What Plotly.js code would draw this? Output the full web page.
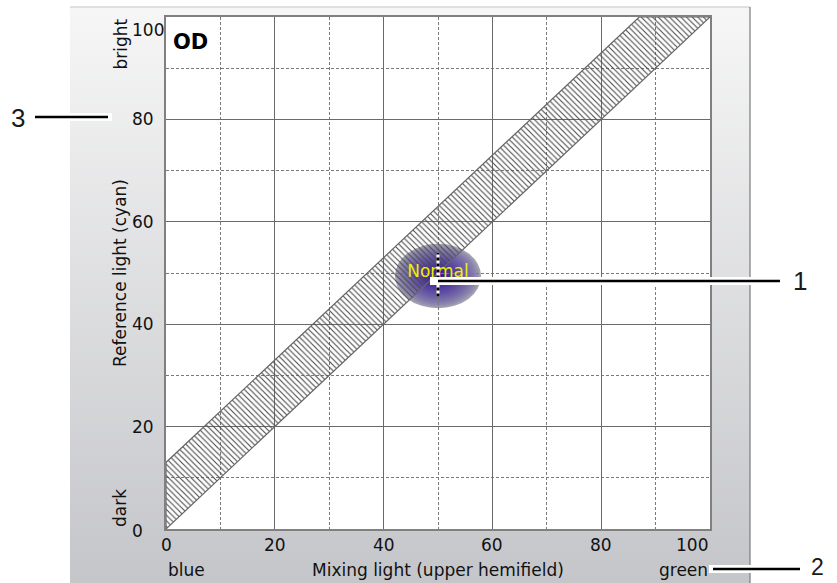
<!DOCTYPE html>
<html>
<head>
<meta charset="utf-8">
<script src="https://cdn.plot.ly/plotly-3.0.1.min.js"></script>
<style>
  html, body { margin: 0; padding: 0; background: #ffffff; }
  #chart { width: 837px; height: 583px; }
</style>
</head>
<body>
<div id="chart"></div>
<script>
// ---------------- data ----------------
const xTickVals = [0, 20, 40, 60, 80, 100];
const xTickLabels = ['0', '20', '40', '60', '80', '100'];
const yTickVals = [0, 20, 40, 60, 80, 100];
const yTickLabels = ['0', '20', '40', '60', '80', '100'];

// hatched tolerance band (mixing light vs reference light)
const bandX = [0, 0, 87, 100, 0];
const bandY = [0, 13, 100, 100, 0];

// "Normal" result
const normalX = [50];
const normalY = [50];
const normalRangeY = [45.4, 53.9];
const normalLabel = ['Normal'];
const normalSpread = { cx: 50, cy: 49.4, rx: 7.9, ry: 6.3 };

const xTitle = 'Mixing light (upper hemifield)';
const yTitle = 'Reference light (cyan)';
const xEndLabels = ['blue', 'green'];
const yEndLabels = ['dark', 'bright'];
const panelTitle = 'OD';
const calloutLabels = ['1', '2', '3'];

(function () {
// ---------------- layout helpers ----------------
const W = 837, H = 583;
const M = { l: 166, r: 127, t: 17, b: 54 };
const PW = W - M.l - M.r, PH = H - M.t - M.b;
const px = v => (v - M.l) / PW;          // pixel x -> paper
const py = v => (H - M.b - v) / PH;      // pixel y -> paper

const FONT = "'DejaVu Sans', Verdana, sans-serif";
const shapes = [];
const annotations = [];

// panel gradient background
const cTop = [246, 246, 246], cBot = [197, 198, 202];
const nBands = 72, y0p = 7, y1p = 583;
for (let i = 0; i < nBands; i++) {
  const t = i / (nBands - 1);
  const c = cTop.map((v, k) => Math.round(v + (cBot[k] - v) * t));
  const ya = y0p + (y1p - y0p) * i / nBands;
  const yb = y0p + (y1p - y0p) * (i + 1) / nBands + 0.6;
  shapes.push({ type: 'rect', xref: 'paper', yref: 'paper', layer: 'below',
    x0: px(70), x1: px(750), y0: py(ya), y1: py(yb),
    fillcolor: `rgb(${c[0]},${c[1]},${c[2]})`, line: { width: 0 } });
}
shapes.push({ type: 'line', xref: 'paper', yref: 'paper', layer: 'below',
  x0: px(70), x1: px(750), y0: py(7), y1: py(7), line: { color: '#d6d6d6', width: 1.5 } });
shapes.push({ type: 'line', xref: 'paper', yref: 'paper', layer: 'below',
  x0: px(750), x1: px(750), y0: py(7), y1: py(583), line: { color: '#7a7a7a', width: 1.2 } });
// white plotting area
shapes.push({ type: 'rect', xref: 'paper', yref: 'paper', layer: 'below',
  x0: 0, x1: 1, y0: 0, y1: 1, fillcolor: '#ffffff', line: { width: 0 } });

// soft "normal" spread (stepped radial shading)
const outerC = [160, 160, 178], innerC = [48, 18, 150];
const nRings = 18;
for (let i = 0; i < nRings; i++) {
  const s = 1 - i / nRings;
  const t = Math.pow(i / (nRings - 1), 0.75);
  const c = outerC.map((v, k) => Math.round(v + (innerC[k] - v) * t));
  shapes.push({ type: 'circle', xref: 'x', yref: 'y', layer: 'below',
    x0: normalSpread.cx - normalSpread.rx * s, x1: normalSpread.cx + normalSpread.rx * s,
    y0: normalSpread.cy - normalSpread.ry * s, y1: normalSpread.cy + normalSpread.ry * s,
    fillcolor: `rgb(${c[0]},${c[1]},${c[2]})`, line: { width: 0 } });
}

// callout lines (black with white halo)
function callout(xa, xb, y, padL, padR) {
  shapes.push({ type: 'line', xref: 'paper', yref: 'paper', layer: 'above',
    x0: px(xa - padL), x1: px(xb + padR), y0: py(y), y1: py(y), line: { color: '#ffffff', width: 8 } });
  shapes.push({ type: 'line', xref: 'paper', yref: 'paper', layer: 'above',
    x0: px(xa), x1: px(xb), y0: py(y), y1: py(y), line: { color: '#000000', width: 2.6 } });
}
callout(438, 780, 281, 8, 0);
callout(713, 800, 569, 4, 0);
callout(35, 108, 117, 0, 4);
const calloutPos = [[800, 281], [817, 567], [18, 118]];
const calloutSize = [26, 23, 26];
calloutLabels.forEach((lab, i) => {
  annotations.push({ xref: 'paper', yref: 'paper', x: px(calloutPos[i][0]), y: py(calloutPos[i][1]),
    text: lab, showarrow: false, xanchor: 'center', yanchor: 'middle', borderpad: 0,
    font: { family: "'Liberation Sans', Arial, sans-serif", size: calloutSize[i], color: '#1a1a1a' } });
});

// tick labels
const tickFont = { family: FONT, size: 17, color: '#111111' };
xTickVals.forEach((v, i) => {
  const last = i === xTickVals.length - 1;
  annotations.push({ xref: 'x', yref: 'paper', x: v, y: 0, yanchor: 'middle', yshift: -16,
    xanchor: last ? 'right' : 'center',
    text: xTickLabels[i], showarrow: false, font: tickFont });
});
yTickVals.forEach((v, i) => {
  const last = i === yTickVals.length - 1;
  annotations.push({ xref: 'paper', yref: 'y', x: px(130), y: v, xanchor: 'left', yanchor: 'middle',
    yshift: last ? -13 : (i === 0 ? -2 : 0),
    text: yTickLabels[i], showarrow: false, font: tickFont });
});

// axis titles and end labels
annotations.push({ xref: 'x', yref: 'paper', x: 50, y: py(570), xanchor: 'center', yanchor: 'middle',
  text: xTitle, showarrow: false, font: tickFont });
annotations.push({ xref: 'paper', yref: 'paper', x: px(166), y: py(570), xanchor: 'left', yanchor: 'middle',
  text: xEndLabels[0], showarrow: false, font: tickFont });
annotations.push({ xref: 'paper', yref: 'paper', x: px(710), y: py(570), xanchor: 'right', yanchor: 'middle',
  text: xEndLabels[1], showarrow: false, font: tickFont });
annotations.push({ xref: 'paper', yref: 'y', x: px(120), y: 50, xanchor: 'center', yanchor: 'middle',
  textangle: -90, text: yTitle, showarrow: false, font: tickFont });
annotations.push({ xref: 'paper', yref: 'paper', x: px(120), y: 0, xanchor: 'center', yanchor: 'bottom',
  textangle: -90, text: yEndLabels[0], showarrow: false, font: tickFont });
annotations.push({ xref: 'paper', yref: 'paper', x: px(120), y: 1, xanchor: 'center', yanchor: 'top',
  textangle: -90, text: yEndLabels[1], showarrow: false, font: tickFont });
annotations.push({ xref: 'paper', yref: 'paper', x: px(171), y: py(42), xanchor: 'left', yanchor: 'middle',
  text: '<b>' + panelTitle + '</b>', showarrow: false,
  font: { family: FONT, size: 21, color: '#000000' } });

// ---------------- traces ----------------
const traces = [
  {
    type: 'scatter', mode: 'lines', x: bandX, y: bandY, fill: 'toself',
    fillcolor: 'rgba(0,0,0,0)',
    fillpattern: { shape: '\\', size: 4, solidity: 0.28, fgcolor: '#4a4a4a', bgcolor: 'rgba(0,0,0,0)' },
    line: { color: '#666666', width: 1.2 }, hoverinfo: 'skip', showlegend: false
  },
  {
    type: 'scatter', mode: 'text', x: normalX, y: normalY, text: normalLabel,
    textposition: 'middle center', cliponaxis: false,
    textfont: { family: FONT, size: 17, color: '#eeee00' }, hoverinfo: 'skip', showlegend: false
  },
  {
    type: 'scatter', mode: 'lines', x: [normalX[0], normalX[0]], y: normalRangeY,
    line: { color: '#ffffff', width: 3 }, hoverinfo: 'skip', showlegend: false
  },
  {
    type: 'scatter', mode: 'lines', x: [normalX[0], normalX[0]], y: normalRangeY,
    line: { color: '#000000', width: 3, dash: '3px,3px' }, hoverinfo: 'skip', showlegend: false
  }
];

const axisCommon = {
  range: [0, 100], dtick: 20, tick0: 0, showticklabels: false, ticks: '',
  showgrid: true, gridcolor: '#6a6a6a', gridwidth: 1.2, zeroline: false,
  showline: true, mirror: true, linecolor: '#808080', linewidth: 2,
  minor: { dtick: 10, tick0: 0, showgrid: true, gridcolor: '#7a7a7a', gridwidth: 1, griddash: '3px,2px' },
  fixedrange: true
};

const layout = {
  width: W, height: H,
  margin: M,
  paper_bgcolor: '#ffffff', plot_bgcolor: '#ffffff',
  xaxis: Object.assign({}, axisCommon),
  yaxis: Object.assign({}, axisCommon),
  shapes: shapes, annotations: annotations,
  showlegend: false,
  font: { family: FONT, size: 17, color: '#111111' }
};

Plotly.newPlot('chart', traces, layout, { displayModeBar: false, staticPlot: true });
})();
</script>
</body>
</html>
